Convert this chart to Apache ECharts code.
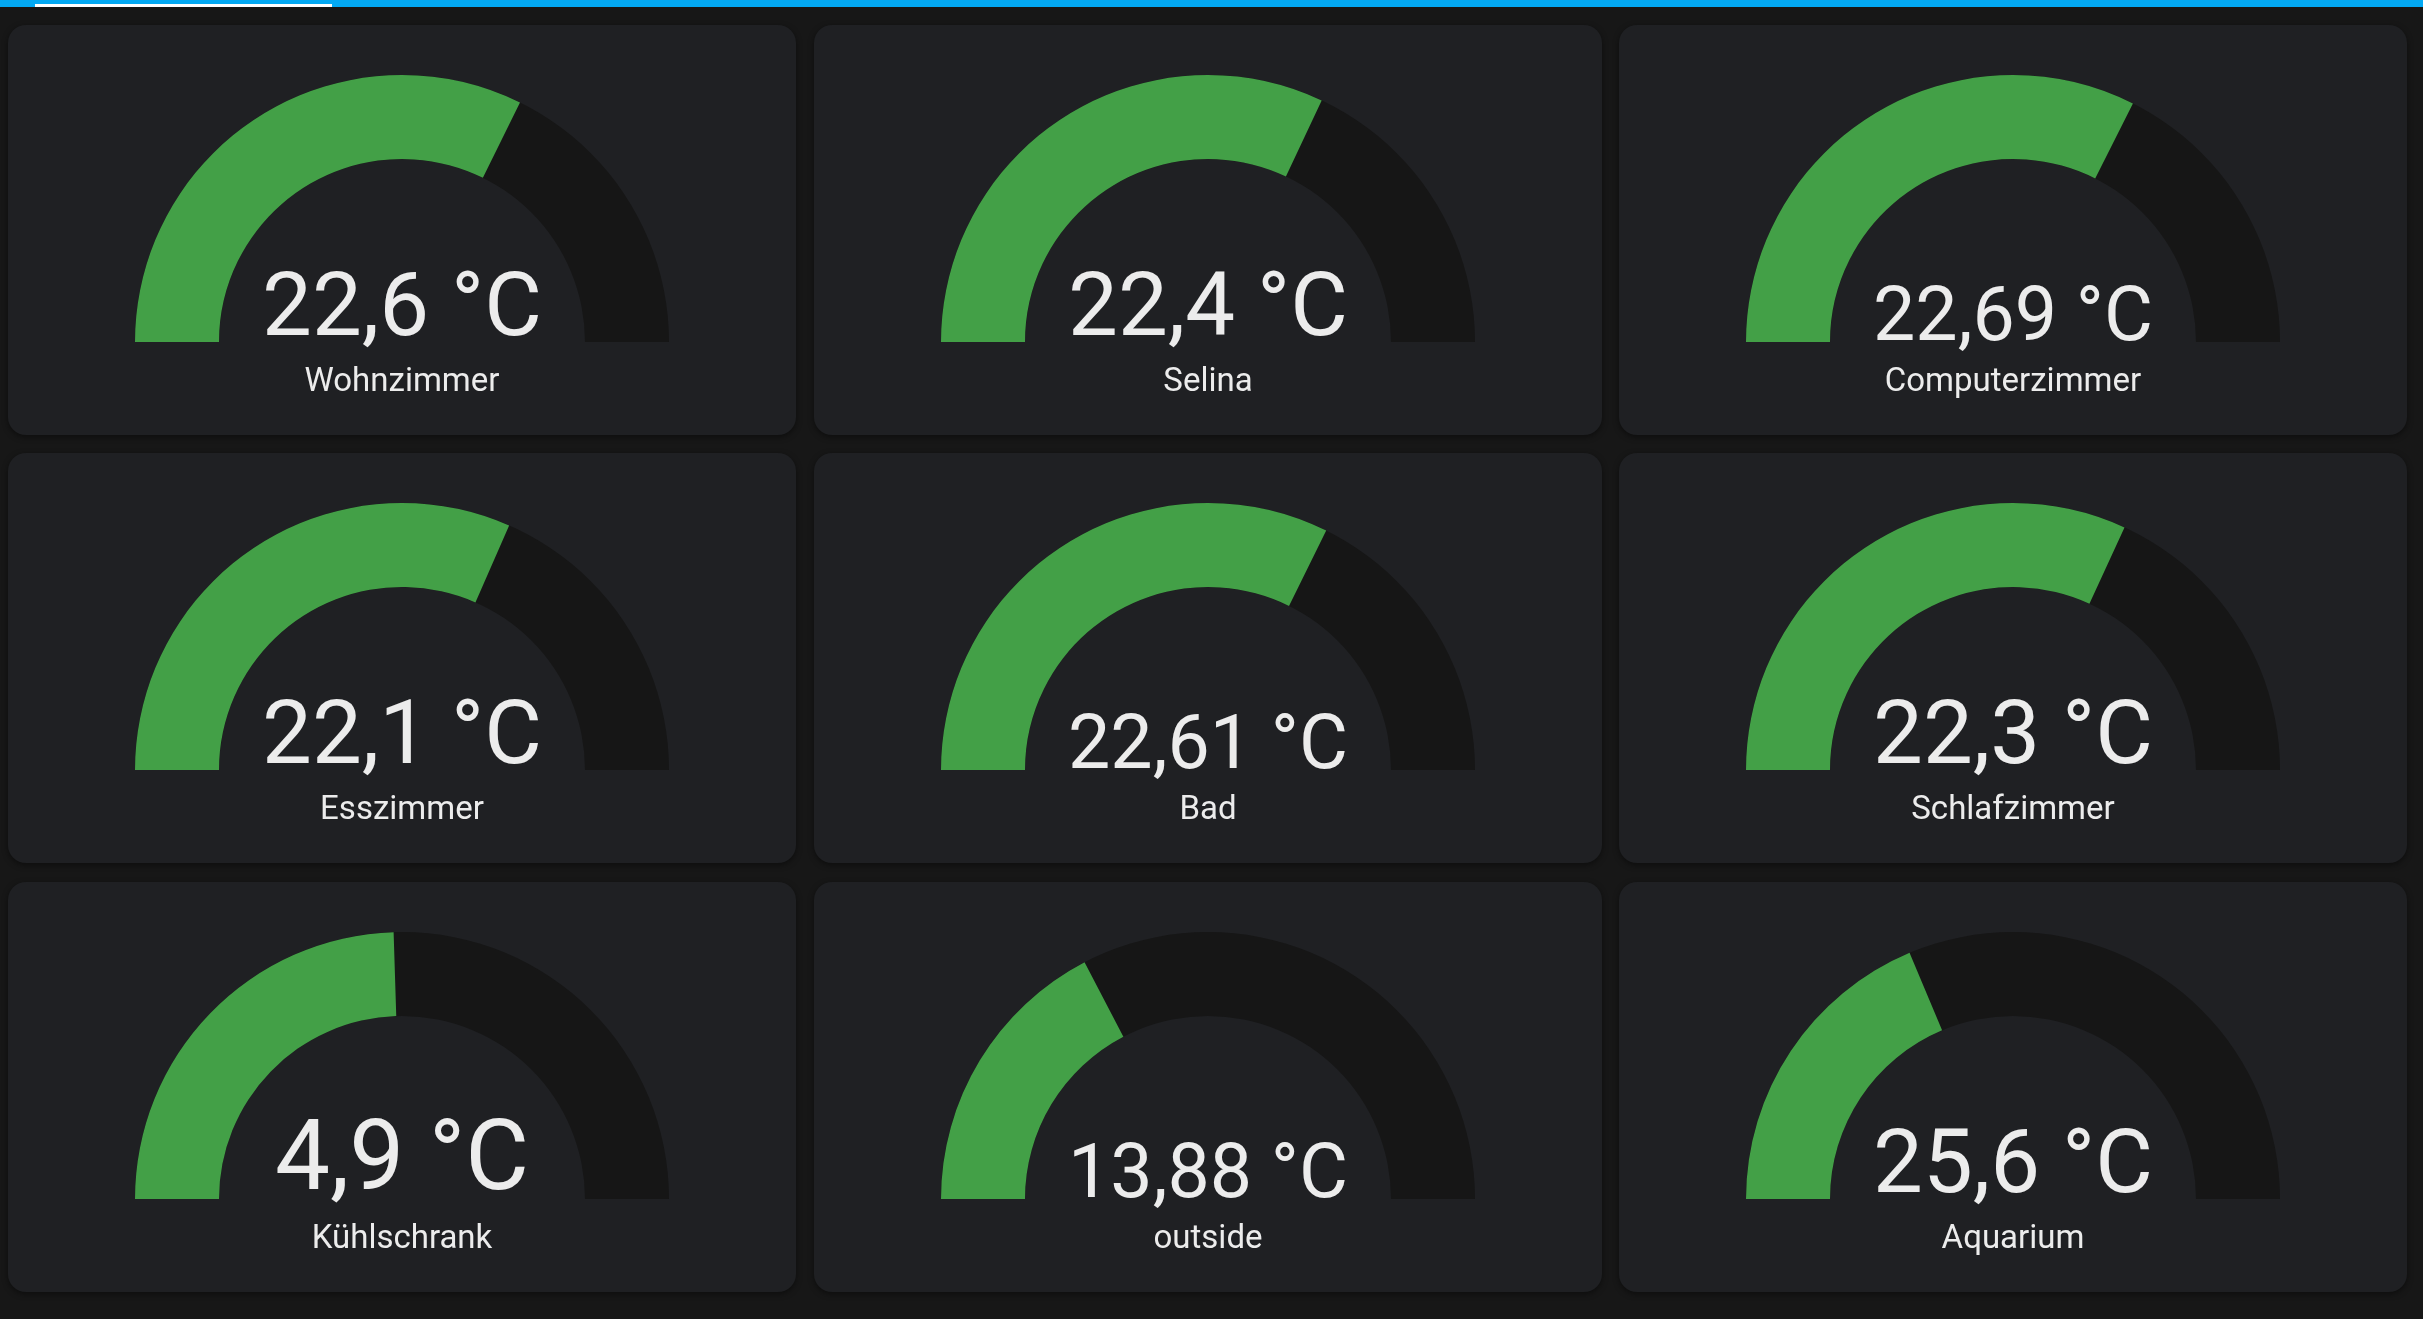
<!DOCTYPE html>
<html>
<head>
<meta charset="utf-8">
<script src="https://cdn.jsdelivr.net/npm/echarts@6/dist/echarts.min.js"></script>
<style>
  html, body { margin: 0; padding: 0; background: #171717; overflow: hidden; }
  #chart { width: 2423px; height: 1319px; }
</style>
</head>
<body>
<div id="chart"></div>
<script>
// ---- data ----
const names = ['Wohnzimmer', 'Selina', 'Computerzimmer', 'Esszimmer', 'Bad', 'Schlafzimmer', 'Kühlschrank', 'outside', 'Aquarium'];
const values = [22.6, 22.4, 22.69, 22.1, 22.61, 22.3, 4.9, 13.88, 25.6];
const minValues = [0, 0, 0, 0, 0, 0, 0, 0, 20];
const maxValues = [35, 35, 35, 35, 35, 35, 10, 40, 35];
const unit = '°C';

// ---- layout ----
const W = 2423, H = 1319;
const cardX = [8, 814, 1619];
const cardY = [25, 453, 882];
const cardW = 788, cardH = 410;
const R = 267, BAND = 84, CY_OFF = 317;
const FONT = 'Roboto';
const PAGE_BG = '#171717', CARD_BG = '#1f2023', TRACK = '#161616', GREEN = '#43a047', TEXT = '#ececec';

const measureCtx = document.createElement('canvas').getContext('2d');
measureCtx.font = '100px Roboto';
function fmt(v) { return String(v).replace('.', ',') + ' ' + unit; }
function fitFont(t) {
  const em = measureCtx.measureText(t).width / 100;
  return Math.min(280 / em, 98);
}

const graphics = [
  { type: 'rect', z: 0, shape: { x: 0, y: 0, width: W, height: 7 }, style: { fill: '#03a9f4' } },
  { type: 'rect', z: 1, shape: { x: 35, y: 4, width: 297, height: 3 }, style: { fill: '#ffffff' } }
];
for (let r = 0; r < 3; r++) {
  for (let c = 0; c < 3; c++) {
    graphics.push({
      type: 'rect', z: 0,
      shape: { x: cardX[c], y: cardY[r], width: cardW, height: cardH, r: 18 },
      style: { fill: CARD_BG, shadowBlur: 6, shadowColor: 'rgba(0,0,0,0.45)', shadowOffsetY: 2 }
    });
  }
}

const series = names.map((name, i) => {
  const col = i % 3, row = Math.floor(i / 3);
  const cx = cardX[col] + cardW / 2;
  const cy = cardY[row] + CY_OFF;
  const txt = fmt(values[i]);
  const fs = fitFont(txt);
  return {
    type: 'gauge',
    center: [cx, cy],
    radius: R,
    startAngle: 180,
    endAngle: 0,
    min: minValues[i],
    max: maxValues[i],
    animation: false,
    axisLine: { lineStyle: { width: BAND, color: [[1, TRACK]] } },
    progress: { show: true, width: BAND, roundCap: false, itemStyle: { color: GREEN } },
    pointer: { show: false },
    anchor: { show: false },
    axisTick: { show: false },
    splitLine: { show: false },
    axisLabel: { show: false },
    title: {
      show: true, offsetCenter: [0, 52 - 0.3415 * 33],
      fontSize: 33, color: TEXT, fontFamily: FONT, fontWeight: 'normal'
    },
    detail: {
      show: true, offsetCenter: [0, 23 - 0.5855 * fs],
      fontSize: fs, lineHeight: Math.round(fs), color: TEXT, fontFamily: FONT, fontWeight: 'normal',
      width: 600, padding: 0, overflow: 'none',
      formatter: v => fmt(v)
    },
    data: [{ value: values[i], name: name }]
  };
});

const chart = echarts.init(document.getElementById('chart'), null, { renderer: 'canvas', width: W, height: H });
chart.setOption({
  backgroundColor: PAGE_BG,
  animation: false,
  graphic: { elements: graphics },
  series: series
});
</script>
</body>
</html>
